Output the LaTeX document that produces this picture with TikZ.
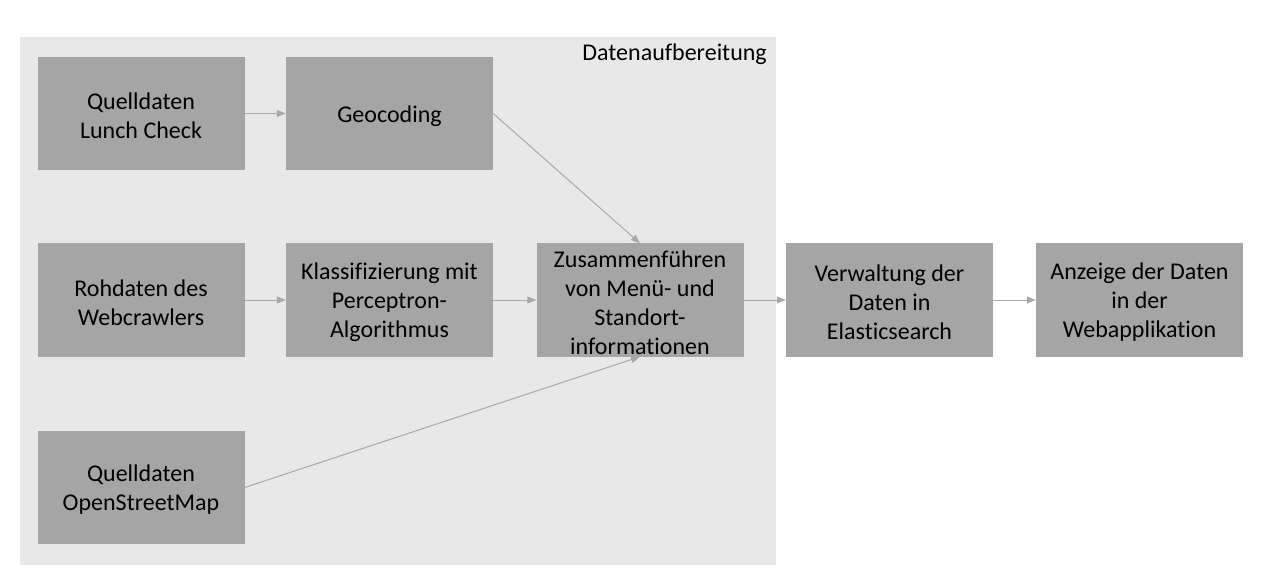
\documentclass[tikz,border=0pt]{standalone}
\usepackage{fontspec}
\setmainfont{Carlito}[Ligatures=NoCommon]
\usetikzlibrary{arrows.meta}
\definecolor{boxfill}{HTML}{A5A5A5}
\definecolor{bgfill}{HTML}{E8E8E8}
\definecolor{linecol}{HTML}{A9A9A9}
\tikzset{
  procbox/.style={fill=boxfill, draw=none, minimum width=207pt, minimum height=113pt, inner sep=0pt},
  boxtext/.style={align=center, inner sep=0pt, font=\fontsize{24}{29}\selectfont, text=black, yshift=-2.5pt},
  conn/.style={draw=linecol, line width=1pt, -{Triangle[length=9pt,width=7pt]}}
}
\begin{document}
\begin{tikzpicture}[x=1pt,y=-1pt]
\useasboundingbox (0,0) rectangle (1280,588);
\fill[bgfill] (20,37) rectangle (776,565);
\node[anchor=north east, inner sep=0pt, font=\fontsize{24}{29}\selectfont] (title) at (767,44) {Datenaufbereitung};
\node[procbox, label={[boxtext]center:Quelldaten\\Lunch Check}] (lc) at (141,113.5) {};
\node[procbox, label={[boxtext]center:Geocoding}] (geo) at (389.5,113.5) {};
\node[procbox, label={[boxtext]center:Rohdaten des\\Webcrawlers}] (roh) at (141,300) {};
\node[procbox, label={[boxtext]center:Klassifizierung mit\\Perceptron-\\Algorithmus}] (kla) at (389.5,300) {};
\node[procbox, label={[boxtext]center:Zusammenführen\\von Menü- und\\Standort-\\informationen}] (zus) at (640,300) {};
\node[procbox, label={[boxtext]center:Verwaltung der\\Daten in\\Elasticsearch}] (ver) at (889.5,300) {};
\node[procbox, label={[boxtext]center:Anzeige der Daten\\in der\\Webapplikation}] (anz) at (1139.5,300) {};
\node[procbox, label={[boxtext]center:Quelldaten\\OpenStreetMap}] (osm) at (141,487.5) {};
\draw[conn] (lc.east) -- (geo.west);
\draw[conn] (geo.east) -- (zus.north);
\draw[conn] (roh.east) -- (kla.west);
\draw[conn] (kla.east) -- (zus.west);
\draw[conn] (zus.east) -- (ver.west);
\draw[conn] (ver.east) -- (anz.west);
\draw[conn] (osm.east) -- (zus.south);
\end{tikzpicture}
\end{document}
